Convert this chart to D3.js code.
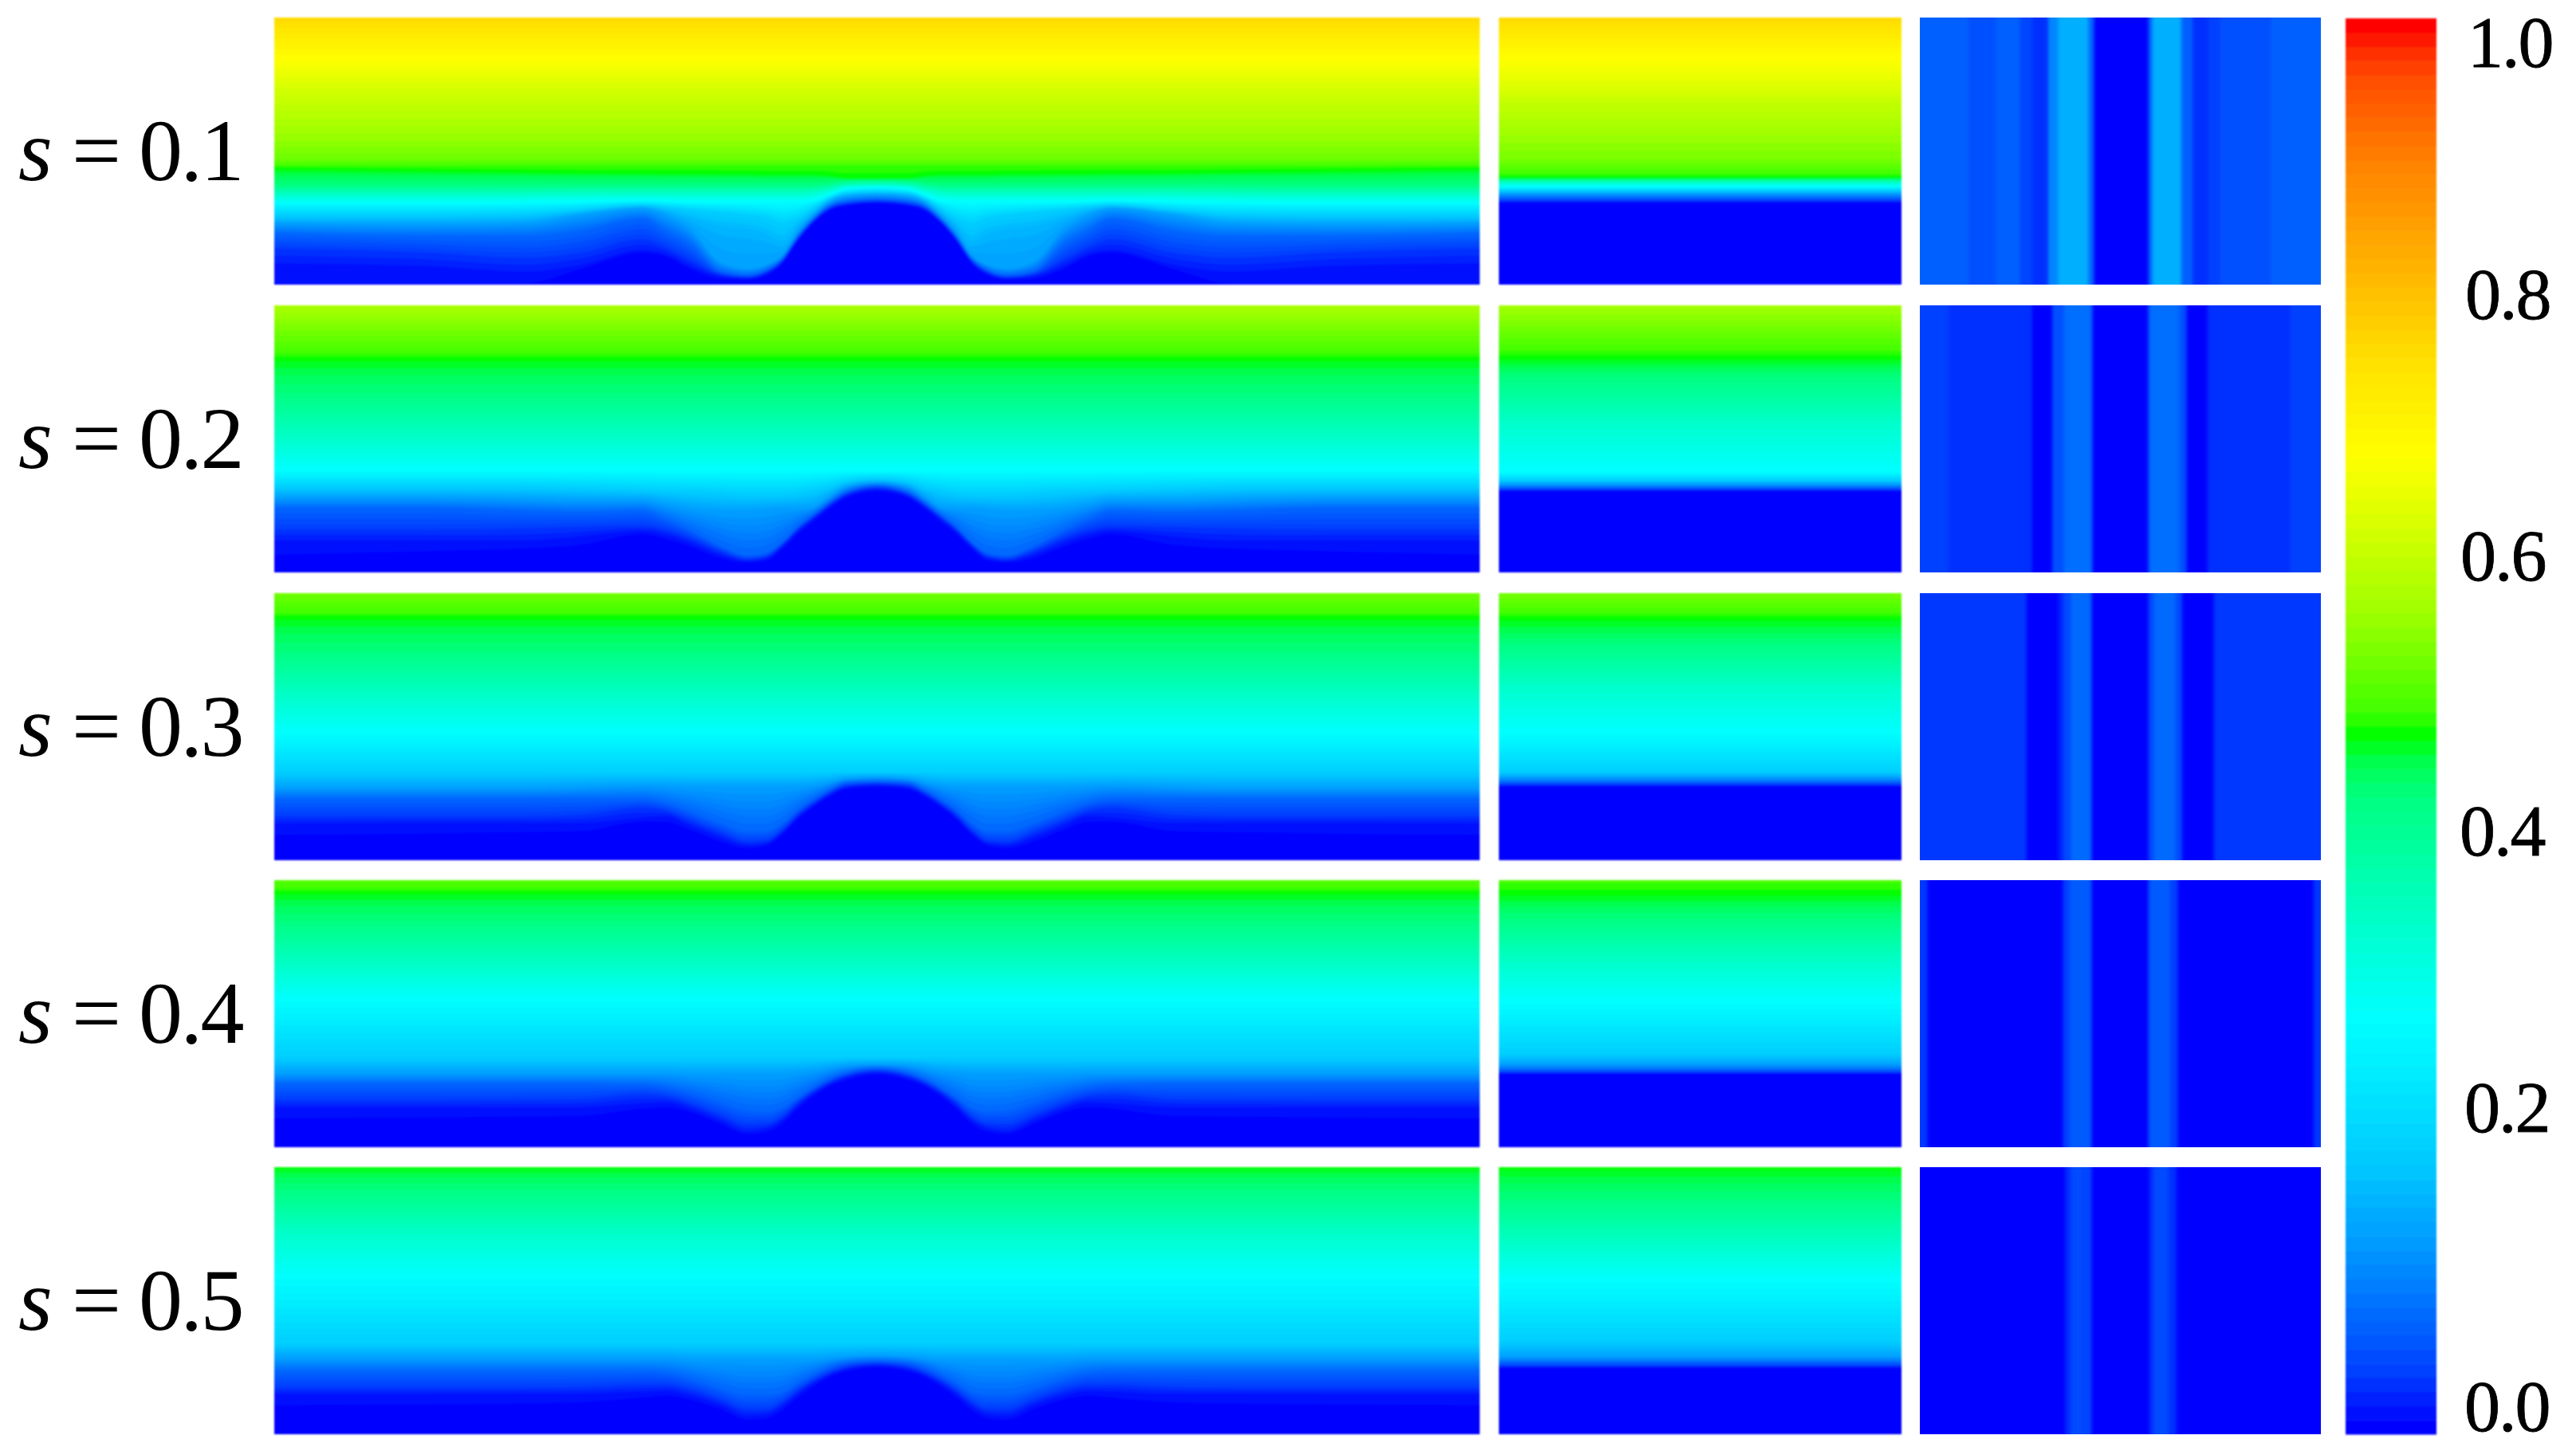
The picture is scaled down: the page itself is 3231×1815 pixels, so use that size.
<!DOCTYPE html>
<html>
<head>
<meta charset="utf-8">
<script src="https://cdnjs.cloudflare.com/ajax/libs/d3/7.8.5/d3.min.js"></script>
<style>
html,body{margin:0;padding:0;background:#fff;overflow:hidden}
text{font-family:"Liberation Serif",serif;fill:#000}
</style>
</head>
<body>
<svg id="chart" width="3231" height="1815"></svg>
<script>
// color bar stops
var colorValues=[0,.01,.02,.04,.07,.128,.186,.26,.292,.362,.45,.474,.494,.51,.582,.654,.693,.762,.797,.833,.905,.959,.98,1]
var colorHexes=["#0000ff","#0010ff","#0020ff","#0040ff","#0060ff","#0098ff","#00c8ff","#00f0ff","#00ffff","#00ffc8","#00ff80","#00ff50","#00ff00","#40ff00","#a0ff00","#e0ff00","#ffff00","#ffe000","#ffc800","#ffb000","#ff8000","#ff5000","#ff3000","#ff0000"]

var sLabels=["0.1","0.2","0.3","0.4","0.5"]
var tickLabels=["1.0","0.8","0.6","0.4","0.2","0.0"]

// distance from the centre of the left panels, 0 = hump top, 1 = panel edge
var stations=[0,.05,.08,.105,.13,.157,.183,.215,.26,.31,.35,.39,.49,.585,.75,1]

// left panels: iso levels and their height (% of panel) at each station
var leftLevels1=[.01,.02,.04,.08,.14,.165,.20,.29,.36,.45,.475,.494,.51,.54,.57,.64,.693,.77]
var leftHeights1=[
 [30.4,29.5,27.5,23,16.5,7.7,3.5,1.8,2.2,6,10.5,12,6,.5,.4,.4],
 [30.7,29.8,27.9,23.4,17,8.2,4,2.2,3,7,11.5,13,7.5,5,7,8],
 [31.2,30.3,28.4,23.9,17.5,8.8,4.6,2.7,3.8,9.5,14,17,12,10,12,13.5],
 [32,31.2,29.2,24.6,18.3,9.6,5.5,3.6,5,15,20,24.5,20,18,18,19],
 [33.5,32.8,30.5,26,20,11,7.5,6,8.5,21,26,28.5,26,23,22.5,23],
 [34.2,33.6,31.3,27,22,15,18,20,21,24.5,27.5,29,27,24.5,24,24],
 [34.8,34.2,32,28.5,25,23,25,26,27,28,29,29.8,28,26.5,26,26],
 [36.4,35.8,33.5,31.5,31,31,31,31,31,31,31.2,31.5,31,30.7,30.5,30.5],
 [37.4,37,35.5,34.5,34,34,34,34,34,34,34,34,34,33.8,33.6,33.6],
 [39,38.8,38,37.5,37.5,37.5,37.5,37.5,37.5,37.5,37.5,37.5,37.5,37.4,37.3,37.3],
 [39.6,39.6,40,40.2,40.2,40.2,40.2,40.3,40.3,40.4,40.4,40.5,40.6,40.8,41,41.3],
 [40,40,41,41.5,41.5,41.5,41.5,41.7,41.7,41.8,41.8,41.9,42,42.3,42.8,43.5],
 44.5,46.8,53.7,73.6,84.6,100]

var leftLevels2=[.01,.02,.04,.08,.14,.20,.29,.36,.45,.474,.494,.51,.593]
var leftHeights2=[
 [30.3,28,23.6,19,14.6,8.7,4.4,3.7,5.4,9.7,12.5,14.3,10.4,9,8,6.7],
 [31,28.6,24.3,20,15.5,9.5,5.2,4.2,6.5,11,14,15.5,13.5,12,12,12],
 [31.6,29.3,25,20.7,16.3,10.3,6,5,8,13,16,17.5,17,16.5,16,16],
 [32.5,30.2,26,21.8,17.5,11.5,7.5,6.5,10,16,20,23,22.5,23,24,24],
 [33.5,32,28,24.5,24,24,23.5,23,23,24,25.5,27,27,27.5,28,28],
 [35,34,32,31,30,29.5,29.5,29.5,30,30.5,30.7,31,31.5,32,32,32],
 38,50,67,75,80,82,100]

var leftLevels3=[.01,.02,.04,.08,.14,.20,.29,.36,.45,.474,.494,.51,.545]
var leftHeights3=[
 [27.4,26.6,23.6,20,15.7,9.5,5.5,4.5,7,11.4,14.3,14.4,11,10.6,10,9.5],
 [28,27.2,24.2,20.6,16.3,10.3,6.3,5.5,8.5,13,16.5,16,14,14,14,13.8],
 [28.6,27.9,25,21.4,17.3,11.3,7.5,7,10.5,15,18.5,19.7,17,16.5,16.5,16.5],
 [29.5,29,26.2,23,19.3,14,11,11,14,18.5,21.5,23,23,23,23,23],
 [31,30.5,29,28,27.5,27.5,27.5,27.5,27.5,27.5,27.8,28,27.5,27,27,27],
 33,47,61,78,86,91,92.5,100]

var leftLevels4=[.01,.02,.04,.08,.14,.20,.29,.36,.45,.474,.494,.51,.525]
var leftHeights4=[
 [27.2,25.2,22.7,19.2,14.7,8.8,5.8,5,8.8,13.2,15,14.5,11.8,11.5,11.2,10.8],
 [27.8,25.9,23.3,20,15.7,10,7,6,10,14.5,16.8,16.5,15,15,15,15],
 [28.5,26.8,24.2,21,17,11.5,8.8,8.5,12,16.5,19,19.7,18,17.8,17.7,17.7],
 [29.5,28,25.5,22.5,19,15,13.5,14,17,20.5,22.5,23.5,23.7,23.7,23.7,23.7],
 [31,30.5,29.5,28.5,28,27.5,27.5,27.5,27.5,27.5,27.7,27.7,27.7,27.7,27.7,27.7],
 33.7,54.6,67.5,84.5,91.4,95.4,97,100]

var leftLevels5=[.01,.02,.04,.08,.14,.20,.29,.36,.45,.474,.494]
var leftHeights5=[
 [25,23.6,21.3,18,14,9,6,5.5,9.5,13,14.5,13.7,12,11.5,11.2,10.9],
 [25.6,24.3,22,19,15.2,10.5,7.5,7,11,14.5,16.3,16,15.2,15.2,15.1,15.1],
 [26.4,25.2,23,20.2,16.7,12.2,9.5,9.5,13,16.8,18.5,18.5,17.7,17.5,17.5,17.5],
 [27.5,26.8,25,22.5,19.5,16,15,15,17.5,21,23,23.6,23.6,23.6,23.6,23.6],
 [29.5,29,28.5,28,28,28,28,28,28,28,28.5,28.5,28.5,28.5,28.5,28.5],
 34,58,74.8,91.6,97,100]

// middle panels: flat profiles
var midLevels1=[.01,.04,.08,.14,.20,.29,.36,.45,.494,.51,.55,.62,.654,.693,.77]
var midHeights1=[30.5,31.4,32.5,34,35.3,36.6,38.2,39.4,40.2,41.5,47,68,75,85,100]
var midLevels2=[.01,.04,.08,.14,.20,.29,.36,.45,.474,.494,.51,.585]
var midHeights2=[30.3,31,31.7,33,34.5,37.5,56,73,77,80.3,83,100]
var midLevels3=[.01,.04,.08,.14,.20,.29,.36,.45,.474,.494,.51,.55]
var midHeights3=[27.5,28.3,29.2,31,33,47,65,81,86,90.7,92.5,100]
var midLevels4=[.01,.04,.08,.14,.20,.29,.36,.45,.474,.494,.515]
var midHeights4=[27.3,28,29,31,35,53.7,69,85.7,91,95,100]
var midLevels5=[.01,.04,.08,.14,.20,.29,.36,.45,.474,.494]
var midHeights5=[24.8,25.5,26.8,29,35,56.8,71,88,95,100]

// right panels: stripe edges (fraction of width) and the value in each stripe
var stripeEdges1=[0,.12,.19,.25,.28,.32,.345,.42,.434,.57,.58,.652,.68,.72,.75,.877,1]
var stripeValues1=[.07,.055,.07,.045,.03,.11,.157,.08,0,.08,.157,.07,.03,.04,.055,.07]
var stripeEdges2=[0,.07,.28,.33,.36,.43,.57,.647,.665,.717,.925,1]
var stripeValues2=[.04,.03,0,.055,.085,0,.085,.055,0,.03,.04]
var stripeEdges3=[0,.266,.345,.357,.378,.428,.57,.585,.637,.654,.733,1]
var stripeValues3=[.035,0,.02,.05,.08,0,.05,.08,.05,0,.035]
var stripeEdges4=[0,.019,.357,.374,.428,.57,.623,.643,.982,1]
var stripeValues4=[.035,0,.04,.065,0,.065,.04,0,.035]
var stripeEdges5=[0,.363,.378,.40,.428,.572,.585,.62,.64,1]
var stripeValues5=[0,.03,.05,.045,0,.03,.05,.03,0]

var leftLevels=[leftLevels1,leftLevels2,leftLevels3,leftLevels4,leftLevels5]
var leftHeights=[leftHeights1,leftHeights2,leftHeights3,leftHeights4,leftHeights5]
var midLevels=[midLevels1,midLevels2,midLevels3,midLevels4,midLevels5]
var midHeights=[midHeights1,midHeights2,midHeights3,midHeights4,midHeights5]
var stripeEdges=[stripeEdges1,stripeEdges2,stripeEdges3,stripeEdges4,stripeEdges5]
var stripeValues=[stripeValues1,stripeValues2,stripeValues3,stripeValues4,stripeValues5]

// layout
var rowTops=[22,383,744,1104,1464]
var rowH=335
var tickBaselines=[84,400,728,1073,1420,1795]
var tickStarts=[3095,3092,3086,3085,3091,3091]

var color=d3.scaleLinear().domain(colorValues).range(colorHexes)

var svg=d3.select("#chart")

var defs=svg.append("defs")
var blur=defs.append("filter")
    .attr("id","soft")
    .attr("color-interpolation-filters","sRGB")
blur.append("feGaussianBlur").attr("stdDeviation",1.3)
var blur2=defs.append("filter")
    .attr("id","softer")
    .attr("color-interpolation-filters","sRGB")
blur2.append("feGaussianBlur").attr("stdDeviation",2.2)

// paints a stack of iso bands, lowest value first, each covering all above it
var drawBands=function(g,xs,levels,rows,x,y)
{
    g.append("rect")
    .attr("x",x.range()[0])
    .attr("y",y.range()[1])
    .attr("width",x.range()[1]-x.range()[0])
    .attr("height",y.range()[0]-y.range()[1])
    .attr("fill",color(0))

    var last=levels[levels.length-1]
    var bands=d3.range(1,100).filter(function(k){return k/100<last})

    g.selectAll("path")
    .data(bands)
    .enter()
    .append("path")
    .attr("fill",function(k){return color(k/99)})
    .attr("d",function(k)
    {
        var area=d3.area()
        .curve(d3.curveMonotoneX)
        .x(function(d){return x(d.x)})
        .y0(y(100))
        .y1(function(d)
        {
            var column=rows.map(function(r){return Array.isArray(r)?r[d.i]:r})
            return y(d3.scaleLinear().domain(levels).range(column)(k/100))
        })
        return area(xs)
    })
}

var leftPoints=stations.slice().reverse().map(function(u,j)
    {return {x:-u,i:stations.length-1-j}})
    .concat(stations.slice(1).map(function(u,j){return {x:u,i:j+1}}))
var midPoints=[{x:0,i:0},{x:1,i:0}]

var leftX=d3.scaleLinear().domain([-1,1]).range([344,1856])
var midX=d3.scaleLinear().domain([0,1]).range([1880,2385])
var rightX=d3.scaleLinear().domain([0,1]).range([2408,2911])

rowTops.forEach(function(top,r)
{
    var y=d3.scaleLinear().domain([0,100]).range([top+rowH,top])

    drawBands(svg.append("g").attr("filter","url(#soft)"),leftPoints,leftLevels[r],leftHeights[r],leftX,y)
    drawBands(svg.append("g").attr("filter","url(#soft)"),midPoints,midLevels[r],midHeights[r],midX,y)

    // stripes run a bit past the panel, the clip keeps the blur off the corners
    defs.append("clipPath")
    .attr("id","stripes"+r)
    .append("rect")
    .attr("x",rightX(0))
    .attr("y",top)
    .attr("width",rightX(1)-rightX(0))
    .attr("height",rowH)

    var edges=stripeEdges[r]
    var last=edges.length-2
    svg.append("g")
    .attr("clip-path","url(#stripes"+r+")")
    .append("g")
    .attr("filter","url(#softer)")
    .selectAll("rect")
    .data(stripeValues[r])
    .enter()
    .append("rect")
    .attr("x",function(d,i){return rightX(edges[i])-(i==0?8:0)})
    .attr("y",top-8)
    .attr("width",function(d,i){return rightX(edges[i+1])-rightX(edges[i])+.5+(i==0||i==last?8:0)})
    .attr("height",rowH+16)
    .attr("fill",function(d){return color(d)})

    var label=svg.append("text")
    .attr("y",top+204)
    .attr("font-size",110)
    label.append("tspan").attr("x",23).attr("font-style","italic").text("s")
    label.append("tspan").attr("x",90).text("=")
    label.append("tspan").attr("x",174).attr("letter-spacing",-2.5).text(sLabels[r])
})

// color bar
var barY=d3.scaleLinear().domain([0,1]).range([1799,23])
svg.append("g")
    .attr("filter","url(#soft)")
    .selectAll("rect")
    .data(d3.range(100))
    .enter()
    .append("rect")
    .attr("x",2942)
    .attr("y",function(k){return barY((k+1)/100)})
    .attr("width",114)
    .attr("height",barY(0)-barY(.01)+.5)
    .attr("fill",function(k){return color(k/99)})

svg.selectAll(".tick")
    .data(tickLabels)
    .enter()
    .append("text")
    .attr("class","tick")
    .attr("x",function(d,i){return tickStarts[i]})
    .attr("y",function(d,i){return tickBaselines[i]})
    .attr("font-size",90)
    .attr("letter-spacing",-2)
    .attr("stroke","#000")
    .attr("stroke-width",.8)
    .text(function(d){return d})
</script>
</body>
</html>
